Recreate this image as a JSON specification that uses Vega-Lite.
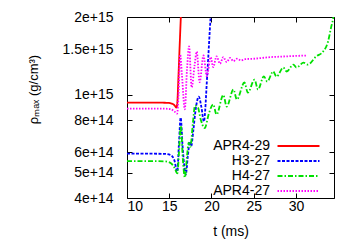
{
  "$schema": "https://vega.github.io/schema/vega-lite/v6.json",
  "width": 207,
  "height": 181,
  "autosize": {"type": "none"},
  "padding": {"left": 127, "top": 17, "right": 16, "bottom": 47},
  "config": {
    "font": "Liberation Sans",
    "view": {"stroke": "#000000", "strokeWidth": 1},
    "axis": {"domain": false, "grid": false, "tickColor": "#000000", "tickSize": -5, "labelFontSize": 14, "labelColor": "#000000", "titleFontSize": 14, "titleFontWeight": "normal", "titleColor": "#000000", "labelFont": "Liberation Sans", "titleFont": "Liberation Sans"}
  },
  "data": {"values": [
    {"s":"APR4-29","t":10,"r":9.34e14},{"s":"APR4-29","t":13,"r":9.34e14},{"s":"APR4-29","t":14.5,"r":9.33e14},{"s":"APR4-29","t":15.1,"r":9.3e14},{"s":"APR4-29","t":15.4,"r":9.23e14},{"s":"APR4-29","t":15.65,"r":9.1e14},{"s":"APR4-29","t":15.85,"r":8.94e14},{"s":"APR4-29","t":15.95,"r":9.3e14},{"s":"APR4-29","t":16.1,"r":1.2e15},{"s":"APR4-29","t":16.25,"r":1.6e15},{"s":"APR4-29","t":16.4,"r":2.1e15},
    {"s":"H3-27","t":10,"r":5.93e14},{"s":"H3-27","t":13,"r":5.93e14},{"s":"H3-27","t":14.5,"r":5.92e14},{"s":"H3-27","t":15.2,"r":5.85e14},{"s":"H3-27","t":15.6,"r":5.6e14},{"s":"H3-27","t":15.95,"r":5.06e14},{"s":"H3-27","t":16.15,"r":6.5e14},{"s":"H3-27","t":16.35,"r":8.18e14},{"s":"H3-27","t":16.6,"r":6.2e14},{"s":"H3-27","t":16.96,"r":4.93e14},{"s":"H3-27","t":17.2,"r":5.8e14},{"s":"H3-27","t":17.44,"r":6.6e14},{"s":"H3-27","t":17.6,"r":6.35e14},{"s":"H3-27","t":17.85,"r":7.3e14},{"s":"H3-27","t":18.15,"r":8.9e14},{"s":"H3-27","t":18.5,"r":9.85e14},{"s":"H3-27","t":18.8,"r":9.0e14},{"s":"H3-27","t":19.1,"r":7.9e14},{"s":"H3-27","t":19.5,"r":1.2e15},{"s":"H3-27","t":19.9,"r":2.0e15},{"s":"H3-27","t":20.1,"r":2.4e15},
    {"s":"H4-27","t":10,"r":5.55e14},{"s":"H4-27","t":13,"r":5.55e14},{"s":"H4-27","t":14.5,"r":5.54e14},{"s":"H4-27","t":15.2,"r":5.45e14},{"s":"H4-27","t":15.6,"r":5.25e14},{"s":"H4-27","t":15.97,"r":4.98e14},{"s":"H4-27","t":16.15,"r":6.0e14},{"s":"H4-27","t":16.37,"r":7.6e14},{"s":"H4-27","t":16.6,"r":5.7e14},{"s":"H4-27","t":16.85,"r":4.8e14},{"s":"H4-27","t":17.1,"r":5.8e14},{"s":"H4-27","t":17.3,"r":6.55e14},{"s":"H4-27","t":17.5,"r":6.3e14},{"s":"H4-27","t":17.8,"r":7.8e14},{"s":"H4-27","t":18.05,"r":9.1e14},{"s":"H4-27","t":18.4,"r":8.94e14},{"s":"H4-27","t":18.7,"r":8.1e14},{"s":"H4-27","t":19.2,"r":7.45e14},{"s":"H4-27","t":19.7,"r":8.5e14},{"s":"H4-27","t":20.2,"r":9.2e14},{"s":"H4-27","t":20.6,"r":8.4e14},{"s":"H4-27","t":21.4,"r":1.0e15},{"s":"H4-27","t":21.8,"r":9.02e14},{"s":"H4-27","t":22.6,"r":1.05e15},{"s":"H4-27","t":23.0,"r":9.6e14},{"s":"H4-27","t":23.9,"r":1.117e15},{"s":"H4-27","t":24.3,"r":1.021e15},{"s":"H4-27","t":25.1,"r":1.146e15},{"s":"H4-27","t":25.5,"r":1.049e15},{"s":"H4-27","t":26.2,"r":1.18e15},{"s":"H4-27","t":26.6,"r":1.127e15},{"s":"H4-27","t":27.3,"r":1.232e15},{"s":"H4-27","t":27.7,"r":1.177e15},{"s":"H4-27","t":28.5,"r":1.276e15},{"s":"H4-27","t":28.9,"r":1.232e15},{"s":"H4-27","t":29.7,"r":1.31e15},{"s":"H4-27","t":30.05,"r":1.276e15},{"s":"H4-27","t":30.9,"r":1.333e15},{"s":"H4-27","t":31.4,"r":1.31e15},{"s":"H4-27","t":32.4,"r":1.41e15},{"s":"H4-27","t":33.2,"r":1.47e15},{"s":"H4-27","t":33.8,"r":1.61e15},{"s":"H4-27","t":34.15,"r":1.82e15},{"s":"H4-27","t":34.45,"r":2.02e15},{"s":"H4-27","t":34.6,"r":2.2e15},
    {"s":"APR4-27","t":10,"r":8.86e14},{"s":"APR4-27","t":13,"r":8.86e14},{"s":"APR4-27","t":14.5,"r":8.85e14},{"s":"APR4-27","t":15.2,"r":8.8e14},{"s":"APR4-27","t":15.6,"r":8.65e14},{"s":"APR4-27","t":15.93,"r":8.47e14},{"s":"APR4-27","t":16.1,"r":1.0e15},{"s":"APR4-27","t":16.3,"r":1.43e15},{"s":"APR4-27","t":16.5,"r":1.2e15},{"s":"APR4-27","t":16.84,"r":8.8e14},{"s":"APR4-27","t":17.1,"r":1.25e15},{"s":"APR4-27","t":17.35,"r":1.54e15},{"s":"APR4-27","t":17.65,"r":1.07e15},{"s":"APR4-27","t":18.0,"r":1.3e15},{"s":"APR4-27","t":18.25,"r":1.47e15},{"s":"APR4-27","t":18.6,"r":1.12e15},{"s":"APR4-27","t":19.05,"r":1.42e15},{"s":"APR4-27","t":19.45,"r":1.18e15},{"s":"APR4-27","t":19.9,"r":1.4e15},{"s":"APR4-27","t":20.2,"r":1.28e15},{"s":"APR4-27","t":20.6,"r":1.41e15},{"s":"APR4-27","t":21.0,"r":1.32e15},{"s":"APR4-27","t":21.4,"r":1.4e15},{"s":"APR4-27","t":21.8,"r":1.34e15},{"s":"APR4-27","t":22.2,"r":1.39e15},{"s":"APR4-27","t":22.6,"r":1.35e15},{"s":"APR4-27","t":23.0,"r":1.38e15},{"s":"APR4-27","t":23.5,"r":1.36e15},{"s":"APR4-27","t":24,"r":1.375e15},{"s":"APR4-27","t":25,"r":1.38e15},{"s":"APR4-27","t":26,"r":1.39e15},{"s":"APR4-27","t":27,"r":1.4e15},{"s":"APR4-27","t":28,"r":1.405e15},{"s":"APR4-27","t":29,"r":1.41e15},{"s":"APR4-27","t":30,"r":1.415e15},{"s":"APR4-27","t":31.3,"r":1.42e15}
  ]},
  "resolve": {"axis": {"x": "independent", "y": "independent"}},
  "layer": [
    {
      "mark": {"type": "line", "clip": true, "interpolate": "monotone", "strokeWidth": 1.8},
      "encoding": {
        "x": {"field": "t", "type": "quantitative", "scale": {"domain": [10, 34.5], "nice": false, "zero": false},
              "axis": {"orient": "bottom", "values": [10, 15, 20, 25, 30], "format": "d", "labelPadding": 6, "title": "t (ms)", "titleX": 103.5, "titleY": 33, "titleBaseline": "middle", "titleAlign": "center"}},
        "y": {"field": "r", "type": "quantitative", "scale": {"type": "log", "domain": [4e14, 2e15], "nice": false},
              "axis": {"orient": "left", "values": [4e14, 5e14, 6e14, 8e14, 1e15, 1.5e15, 2e15], "format": "~e", "labelPadding": 19, "title": "ρₘₐₓ (g/cm³)", "titleFontSize": 13, "titleX": -94, "titleY": 72, "titleAngle": 270, "titleBaseline": "middle", "titleAlign": "center"}},
        "color": {"field": "s", "type": "nominal",
                  "scale": {"domain": ["APR4-29", "H3-27", "H4-27", "APR4-27"], "range": ["#ff0000", "#0000ff", "#00e000", "#ff00ff"]},
                  "legend": {"title": null, "orient": "none", "legendX": 163.5, "legendY": 121, "padding": 0, "symbolType": "M-3,0H3", "symbolSize": 196, "symbolStrokeWidth": 1.8, "symbolFillColor": "transparent", "rowPadding": -0.8, "labelOffset": -36.5, "labelAlign": "right", "labelFontSize": 14, "labelColor": "#000000", "labelFont": "Liberation Sans", "labelLimit": 0}},
        "strokeDash": {"field": "s", "type": "nominal",
                  "scale": {"domain": ["APR4-29", "H3-27", "H4-27", "APR4-27"], "range": [[1, 0], [3, 1.5], [5, 2, 1.5, 2], [1.5, 1.5]]},
                  "legend": {"title": null, "orient": "none", "legendX": 163.5, "legendY": 121, "padding": 0, "symbolType": "M-3,0H3", "symbolSize": 196, "symbolStrokeWidth": 1.8, "symbolFillColor": "transparent", "rowPadding": -0.8, "labelOffset": -36.5, "labelAlign": "right", "labelFontSize": 14, "labelColor": "#000000", "labelFont": "Liberation Sans", "labelLimit": 0}}
      }
    },
    {
      "mark": {"type": "point", "opacity": 0},
      "encoding": {
        "x": {"field": "t", "type": "quantitative", "axis": {"orient": "top", "values": [10, 15, 20, 25, 30], "labels": false, "title": null}},
        "y": {"field": "r", "type": "quantitative", "axis": {"orient": "right", "values": [4e14, 5e14, 6e14, 8e14, 1e15, 1.5e15, 2e15], "labels": false, "title": null}}
      }
    }
  ]
}
